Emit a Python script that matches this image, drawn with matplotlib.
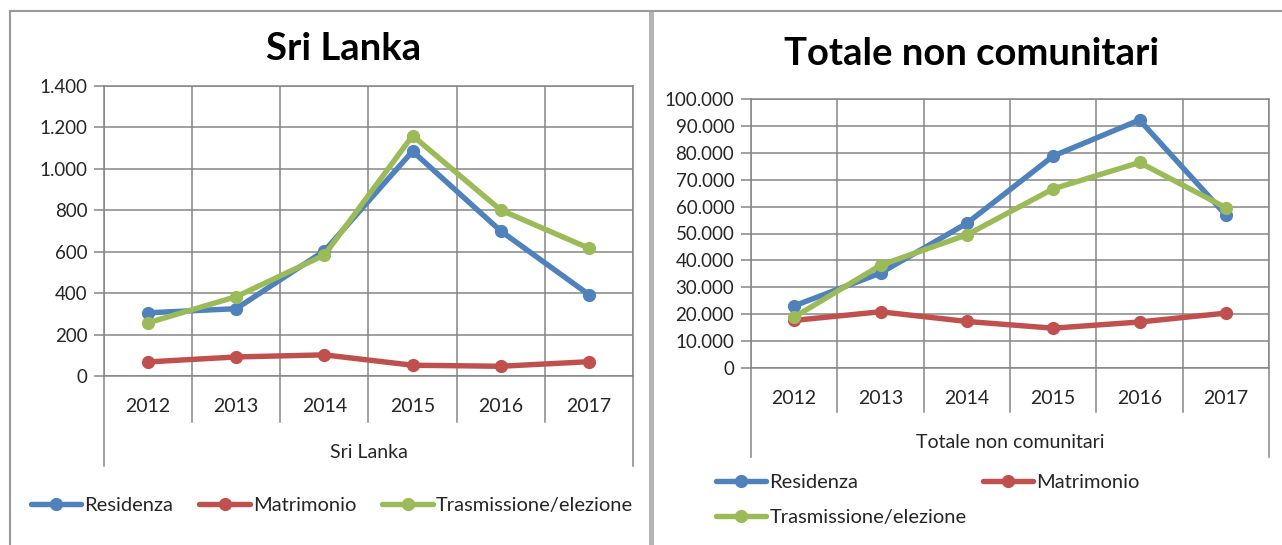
import matplotlib
matplotlib.use("Agg")
import matplotlib.pyplot as plt
from matplotlib.ticker import FuncFormatter, MultipleLocator
from matplotlib.lines import Line2D
from matplotlib.patches import Rectangle

plt.rcParams['font.family'] = ['Lato', 'DejaVu Sans']

# data
years = ["2012", "2013", "2014", "2015", "2016", "2017"]
series_names = ["Residenza", "Matrimonio", "Trasmissione/elezione"]
colors = ["#4F81BD", "#C0504D", "#9BBB59"]

sri_residenza = [305, 325, 604, 1085, 700, 393]
sri_matrimonio = [68, 92, 102, 52, 47, 69]
sri_trasmissione = [257, 383, 584, 1160, 801, 617]

tot_residenza = [23100, 35300, 53800, 78800, 92200, 56900]
tot_matrimonio = [17700, 20900, 17300, 14800, 17100, 20400]
tot_trasmissione = [18900, 38200, 49500, 66600, 76400, 59600]

W, H = 1282, 545
fig = plt.figure(figsize=(W / 100, H / 100), dpi=100)

GRID = "#868686"
TXT = "#262626"


def px_axes(x0, y0, x1, y1):
    return fig.add_axes([x0 / W, 1 - y1 / H, (x1 - x0) / W, (y1 - y0) / H])


def thousands(v, pos):
    return f"{v:,.0f}".replace(",", ".")


def draw_panel(ax, data, ymax, ystep, cat_label, inner_drop, outer_drop, label_y):
    for vals, name, c in zip(data, series_names, colors):
        ax.plot(range(len(years)), vals, color=c, lw=3.9, marker="o", ms=8.5,
                label=name, solid_capstyle="round", solid_joinstyle="round", zorder=3)
    ax.set_xlim(-0.5, len(years) - 0.5)
    ax.set_ylim(0, ymax)
    ax.yaxis.set_major_locator(MultipleLocator(ystep))
    ax.yaxis.set_major_formatter(FuncFormatter(thousands))
    ax.set_xticks(range(len(years)), years)
    ax.set_xticks([i - 0.5 for i in range(len(years) + 1)], minor=True)
    ax.grid(axis="y", which="major", color=GRID, lw=1.1)
    ax.grid(axis="x", which="minor", color=GRID, lw=1.1)
    ax.tick_params(axis="x", which="both", length=0, pad=16, labelsize=14, labelcolor=TXT)
    ax.tick_params(axis="y", length=7, color=GRID, width=1.1, pad=5, labelsize=13.5, labelcolor=TXT)
    for s in ax.spines.values():
        s.set_color(GRID)
        s.set_linewidth(1.1)
    # category separators running down past the year labels
    trans = ax.get_xaxis_transform()
    n = len(years)
    for i in range(n + 1):
        drop = outer_drop if i in (0, n) else inner_drop
        ax.plot([i - 0.5, i - 0.5], [0, -drop], transform=trans, color=GRID,
                lw=1.1, clip_on=False)
    ax.text((n - 1) / 2, -label_y, cat_label, transform=trans, ha="center",
            va="center", fontsize=14, color=TXT)


# left panel
ax1 = px_axes(104, 86, 633, 376)
draw_panel(ax1, [sri_residenza, sri_matrimonio, sri_trasmissione], 1400, 200,
           "Sri Lanka", (422 - 376) / 290, (466 - 376) / 290, (452 - 376) / 290)
fig.text(344 / W, 1 - 49 / H, "Sri Lanka", ha="center", va="center",
         fontsize=27.5, fontweight="bold", color="black")
h, l = ax1.get_legend_handles_labels()
fig.legend(h, l, loc="center left", bbox_to_anchor=(31 / W, 1 - 505 / H), ncol=3,
           frameon=False, borderpad=0, borderaxespad=0, handlelength=2.5,
           handletextpad=0.15, columnspacing=1.3, fontsize=14.5, labelcolor=TXT)

# right panel
ax2 = px_axes(751, 99, 1269, 368)
draw_panel(ax2, [tot_residenza, tot_matrimonio, tot_trasmissione], 100000, 10000,
           "Totale non comunitari", (412 - 368) / 269, (457 - 368) / 269, (443 - 368) / 269)
fig.text(972 / W, 1 - 54 / H, "Totale non comunitari", ha="center", va="center",
         fontsize=27.5, fontweight="bold", color="black")
h, l = ax2.get_legend_handles_labels()
fig.legend([h[0], h[2], h[1]], [l[0], l[2], l[1]], loc="center left",
           bbox_to_anchor=(716 / W, 1 - 500 / H), ncol=2, frameon=False,
           borderpad=0, borderaxespad=0, handlelength=2.5, handletextpad=0.15,
           columnspacing=0.8, labelspacing=0.85, fontsize=14.5, labelcolor=TXT)

# chart area borders
fig.add_artist(Line2D([10 / W, 1], [1 - 11 / H, 1 - 11 / H], transform=fig.transFigure,
                      color="#9a9a9a", lw=1.5))
fig.add_artist(Line2D([10 / W, 10 / W], [0, 1 - 11 / H], transform=fig.transFigure,
                      color="#9a9a9a", lw=1.5))
fig.add_artist(Rectangle((649 / W, 0), 5 / W, 1 - 10 / H, transform=fig.transFigure,
                         color="#b4b4b4", lw=0))

fig.savefig("out.png", dpi=100)
